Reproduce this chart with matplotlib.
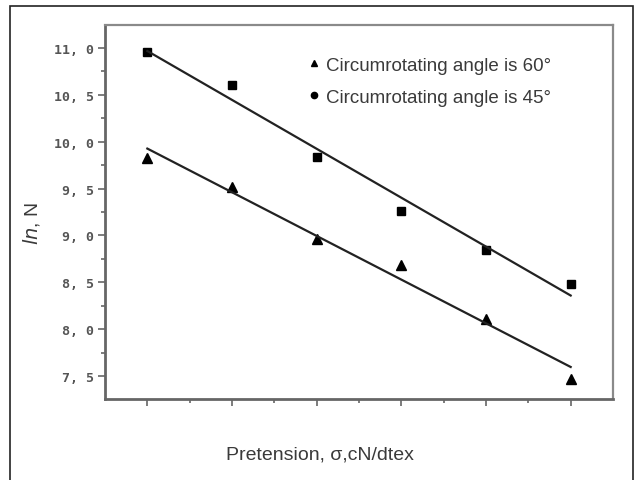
import numpy as np
import matplotlib
matplotlib.use("Agg")
import matplotlib.pyplot as plt
from matplotlib.lines import Line2D
from matplotlib.patches import Rectangle

plt.rcParams['font.family'] = ['Liberation Sans', 'DejaVu Sans']

# pretension levels (no tick labels in the original)
x = [1, 2, 3, 4, 5, 6]
ln_n_60 = [9.83, 9.52, 8.96, 8.68, 8.11, 7.47]
ln_n_45 = [10.96, 10.60, 9.84, 9.26, 8.84, 8.48]
ytick_vals = [7.5, 8.0, 8.5, 9.0, 9.5, 10.0, 10.5, 11.0]
ytick_labels = ["7, 5", "8, 0", "8, 5", "9, 0", "9, 5", "10, 0", "10, 5", "11, 0"]
labels = ["Circumrotating angle is 60°", "Circumrotating angle is 45°"]

txt = '#3a3a3a'

fig = plt.figure(figsize=(6.38, 4.81), dpi=100)
# outer frame
fig.patches.append(Rectangle((10 / 638, -0.05), 623 / 638, 1.05 - 7 / 481,
                             transform=fig.transFigure, fill=False,
                             edgecolor='#222222', linewidth=1.2))

ax = fig.add_axes([105 / 638, 1 - 400 / 481, 508 / 638, 374 / 481])

ax.plot(x, ln_n_60, linestyle='none', marker='^', color='black', markersize=7)
ax.plot(x, ln_n_45, linestyle='none', marker='s', color='black', markersize=6)

# linear fits
xf = np.array([x[0], x[-1]])
for ys in (ln_n_60, ln_n_45):
    k, b = np.polyfit(x, ys, 1)
    ax.plot(xf, k * xf + b, color='#222222', linewidth=1.6)

ax.set_xlim(0.5, 6.5)
ax.set_ylim(7.255, 11.245)
ax.set_xticks(x)
ax.set_xticks([v + 0.5 for v in x[:-1]], minor=True)
ax.set_xticklabels([])
ax.set_yticks(ytick_vals)
ax.set_yticks([v + 0.25 for v in ytick_vals[:-1]], minor=True)
ax.set_yticklabels(ytick_labels, fontsize=9.5, color='#555555',
                   family=['DejaVu Sans Mono'], fontweight='bold')
ax.tick_params(axis='both', which='major', direction='out', length=5,
               width=1.2, color='#666666', pad=3)
ax.tick_params(axis='both', which='minor', direction='out', length=3,
               width=1.2, color='#666666')

for s in ('left', 'bottom'):
    ax.spines[s].set_color('#666666')
    ax.spines[s].set_linewidth(2.0)
for s in ('top', 'right'):
    ax.spines[s].set_color('#8a8a8a')
    ax.spines[s].set_linewidth(1.6)

ax.set_xlabel("Pretension, σ,cN/dtex", fontsize=14, color=txt)
ax.xaxis.set_label_coords((320 - 105) / 508, -(455 - 400) / 374)
ax.xaxis.label.set_va('center')
ax.set_ylabel("$\\mathit{ln}$, N", fontsize=14, color=txt)
ax.yaxis.set_label_coords(-(105 - 31) / 508, 1 - (223 - 26) / 374)
ax.yaxis.label.set_va('center')

handles = [Line2D([], [], linestyle='none', marker='^', color='black', markersize=5),
           Line2D([], [], linestyle='none', marker='o', color='black', markersize=4.5)]
ax.legend(handles, labels, loc='upper left',
          bbox_to_anchor=((299 - 105) / 508, 1 - (50 - 26) / 374),
          frameon=False, fontsize=13.5, handletextpad=0.25, handlelength=0.8,
          labelspacing=0.8, labelcolor=txt, borderaxespad=0)

fig.savefig("out.png", dpi=100)
